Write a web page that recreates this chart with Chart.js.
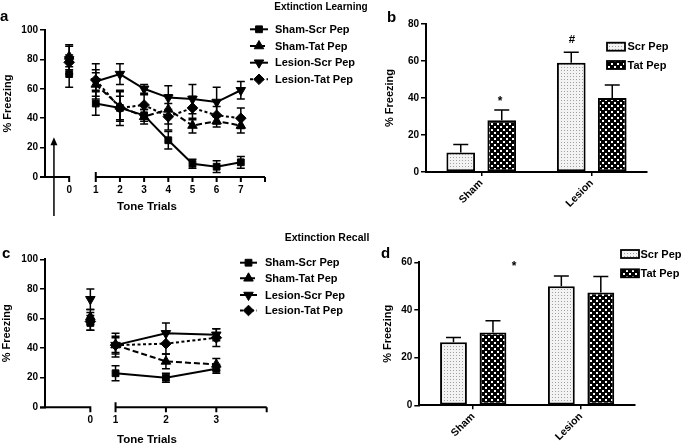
<!DOCTYPE html>
<html><head><meta charset="utf-8">
<script src="https://cdn.jsdelivr.net/npm/chart.js@4.4.1/dist/chart.umd.min.js"></script>
<style>
html,body{margin:0;padding:0;background:#fff;}
body{width:685px;height:445px;overflow:hidden;position:relative;font-family:"Liberation Sans",Arial,sans-serif;}
canvas{position:absolute;}
.t{position:absolute;font-weight:bold;color:#000;white-space:nowrap;line-height:1;}
.c{transform:translateX(-50%);}
</style></head><body>
<canvas id="ca" width="380" height="222" style="left:0;top:0"></canvas>
<canvas id="cb" width="305" height="222" style="left:380px;top:0"></canvas>
<canvas id="cc" width="380" height="223" style="left:0;top:222px"></canvas>
<canvas id="cd" width="305" height="223" style="left:380px;top:222px"></canvas>

<div class="t" style="left:0px;top:8px;font-size:15px">a</div>
<div class="t" style="left:387px;top:9px;font-size:15px">b</div>
<div class="t" style="left:2px;top:245px;font-size:15px">c</div>
<div class="t" style="left:381px;top:245px;font-size:15px">d</div>
<div class="t c" style="left:321px;top:1.5px;font-size:10px">Extinction Learning</div>
<div class="t c" style="left:327px;top:232px;font-size:10.5px">Extinction Recall</div>
<div class="t c" style="left:147px;top:201px;font-size:11.5px">Tone Trials</div>
<div class="t c" style="left:147px;top:434px;font-size:11.5px">Tone Trials</div>
<div class="t c" style="left:500px;top:95px;font-size:12px">*</div>
<div class="t c" style="left:572px;top:33.5px;font-size:11.5px">#</div>
<div class="t c" style="left:514px;top:260px;font-size:12px">*</div>

<script>
// ---------------- data ----------------
const seriesNames = ['Sham-Scr Pep', 'Sham-Tat Pep', 'Lesion-Scr Pep', 'Lesion-Tat Pep'];

// (a) Extinction learning, tone trials 0..7
const learnTrials = [0, 1, 2, 3, 4, 5, 6, 7];
const learnShamScr     = [70, 50, 47, 42, 25, 9, 7, 10];
const learnShamScrErr  = [9, 8, 8, 4, 6, 3, 4, 4];
const learnShamTat     = [82, 63, 48, 41, 46, 35, 38, 35];
const learnShamTatErr  = [7, 8, 10, 5, 10, 5, 4, 5];
const learnLesScr      = [80, 65, 70, 60, 54, 53, 51, 59];
const learnLesScrErr   = [10, 12, 7, 3, 8, 10, 10, 6];
const learnLesTat      = [78, 66, 47, 49, 41, 47, 42, 40];
const learnLesTatErr   = [5, 7, 12, 7, 9, 8, 6, 7];

// (c) Extinction recall, tone trials 0..3
const recallTrials = [0, 1, 2, 3];
const recallShamScr    = [57, 23, 20, 26];
const recallShamScrErr = [5, 5, 3, 3];
const recallShamTat    = [61, 42, 31, 29];
const recallShamTatErr = [5, 6, 5, 4];
const recallLesScr     = [73, 42, 50, 49];
const recallLesScrErr  = [7, 8, 7, 4];
const recallLesTat     = [58, 42, 43, 47];
const recallLesTatErr  = [6, 5, 7, 6];

// (b) and (d) bar panels
const groups = ['Sham', 'Lesion'];
const pepNames = ['Scr Pep', 'Tat Pep'];
const learnBarScr    = [10.6, 59];
const learnBarScrErr = [4.3, 5.7];
const learnBarTat    = [28, 40];
const learnBarTatErr = [5.5, 7];
const recallBarScr    = [26.5, 50];
const recallBarScrErr = [2, 4.3];
const recallBarTat    = [30.5, 47.3];
const recallBarTatErr = [5, 6.7];

// ---------------- styles ----------------
const FONT = '"Liberation Sans", Arial, sans-serif';
Chart.defaults.font.family = FONT;
Chart.defaults.font.weight = 'bold';
Chart.defaults.font.size = 10;
Chart.defaults.color = '#000';

const lineStyles = [
  {pointStyle: 'rect', rotation: 0, radius: 4.8, dash: []},
  {pointStyle: 'triangle', rotation: 0, radius: 5.5, dash: [6, 3]},
  {pointStyle: 'triangle', rotation: 180, radius: 5.5, dash: []},
  {pointStyle: 'rectRot', rotation: 0, radius: 5.3, dash: [3, 2.5]}
];

function makePattern(kind) {
  const c = document.createElement('canvas');
  const g = c.getContext('2d');
  if (kind === 'dots') {
    c.width = 3; c.height = 3;
    g.fillStyle = '#f3f3f3'; g.fillRect(0, 0, 3, 3);
    g.fillStyle = '#a0a0a0'; g.fillRect(1, 1, 1, 1);
  } else {
    c.width = 6; c.height = 6;
    g.fillStyle = '#000000'; g.fillRect(0, 0, 6, 6);
    g.fillStyle = '#ffffff'; g.fillRect(0, 0, 2, 2); g.fillRect(3, 3, 2, 2);
  }
  return g.createPattern(c, 'repeat');
}
const scrPattern = makePattern('dots');
const tatPattern = makePattern('checks');

// ---------------- plugins ----------------
function drawErrors(chart, o) {
  const ctx = chart.ctx, ys = chart.scales.y;
  ctx.save();
  ctx.strokeStyle = '#000'; ctx.lineWidth = o.lineWidth; ctx.setLineDash([]);
  chart.data.datasets.forEach((ds, di) => {
    const meta = chart.getDatasetMeta(di);
    meta.data.forEach((el, i) => {
      const raw = ds.data[i];
      const v = (typeof raw === 'object') ? raw.y : raw;
      const e = ds.errors[i];
      const top = ys.getPixelForValue(v + e);
      const bot = o.upOnly ? ys.getPixelForValue(v) : ys.getPixelForValue(v - e);
      ctx.beginPath();
      ctx.moveTo(el.x, top); ctx.lineTo(el.x, bot);
      ctx.moveTo(el.x - o.cap / 2, top); ctx.lineTo(el.x + o.cap / 2, top);
      if (!o.upOnly) { ctx.moveTo(el.x - o.cap / 2, bot); ctx.lineTo(el.x + o.cap / 2, bot); }
      ctx.stroke();
    });
  });
  ctx.restore();
}
const errorBarPlugin = {
  id: 'errorBars',
  beforeDatasetsDraw(chart, a, o) { if (o.layer === 'below') drawErrors(chart, o); },
  afterDatasetsDraw(chart, a, o) { if (o.layer === 'above') drawErrors(chart, o); }
};

const brokenAxisPlugin = {
  id: 'brokenAxis',
  afterDraw(chart, a, o) {
    const ctx = chart.ctx, xs = chart.scales.x, area = chart.chartArea;
    const yb = area.bottom;
    const pBase = xs.getPixelForValue(o.base);
    const p1 = xs.getPixelForValue(1);
    ctx.save();
    ctx.strokeStyle = '#000'; ctx.lineWidth = 2; ctx.setLineDash([]);
    ctx.beginPath();
    ctx.moveTo(area.left - 5, yb); ctx.lineTo(pBase + 1, yb);
    ctx.moveTo(pBase, yb); ctx.lineTo(pBase, yb + 5);
    ctx.moveTo(p1, yb); ctx.lineTo(area.right, yb);
    ctx.moveTo(p1, yb - 5); ctx.lineTo(p1, yb + 5);
    o.trials.forEach(t => { if (t >= 2) { const p = xs.getPixelForValue(t); ctx.moveTo(p, yb); ctx.lineTo(p, yb + 5); } });
    ctx.moveTo(area.right, yb); ctx.lineTo(area.right, yb + 5);
    ctx.stroke();
    if (o.arrow) {
      const ys = chart.scales.y;
      const ax = xs.getPixelForValue(o.arrow.x);
      const tip = ys.getPixelForValue(o.arrow.tipValue);
      const bot = yb + o.arrow.below;
      ctx.lineWidth = 1.5;
      ctx.beginPath(); ctx.moveTo(ax, bot); ctx.lineTo(ax, tip + 6); ctx.stroke();
      ctx.fillStyle = '#000';
      ctx.beginPath(); ctx.moveTo(ax, tip); ctx.lineTo(ax - 3.5, tip + 8); ctx.lineTo(ax + 3.5, tip + 8); ctx.closePath(); ctx.fill();
    }
    ctx.restore();
  }
};

const lineLegendPlugin = {
  id: 'lineLegend',
  afterDraw(chart, a, o) {
    const ctx = chart.ctx;
    ctx.save();
    ctx.font = 'bold 11px ' + FONT;
    ctx.textBaseline = 'middle';
    ctx.fillStyle = '#000'; ctx.strokeStyle = '#000';
    chart.data.datasets.forEach((ds, i) => {
      const y = o.rows[i];
      ctx.lineWidth = 2;
      ctx.setLineDash(ds.borderDash || []);
      ctx.beginPath(); ctx.moveTo(o.x0, y); ctx.lineTo(o.x1, y); ctx.stroke();
      ctx.setLineDash([]);
      ctx.lineWidth = 1;
      Chart.helpers.drawPoint(ctx, {pointStyle: ds.pointStyle, rotation: ds.pointRotation, radius: ds.pointRadius, borderWidth: 1}, (o.x0 + o.x1) / 2, y);
      ctx.fillText(ds.label, o.textX, y + 0.5);
    });
    ctx.restore();
  }
};

const barLegendPlugin = {
  id: 'barLegend',
  afterDraw(chart, a, o) {
    const ctx = chart.ctx;
    ctx.save();
    ctx.font = 'bold 11px ' + FONT;
    ctx.textBaseline = 'middle';
    chart.data.datasets.forEach((ds, i) => {
      const y = o.rows[i];
      ctx.fillStyle = ds.backgroundColor;
      ctx.fillRect(o.x, y - o.h / 2, o.w, o.h);
      ctx.strokeStyle = '#000'; ctx.lineWidth = 1.8;
      ctx.strokeRect(o.x, y - o.h / 2, o.w, o.h);
      ctx.fillStyle = '#000';
      ctx.fillText(ds.label, o.textX, y + 0.5);
    });
    ctx.restore();
  }
};

// ---------------- builders ----------------
function yAxis(max, width, titlePad) {
  return {
    min: 0, max: max,
    afterFit: s => { s.width = width; },
    ticks: {stepSize: 20, padding: 2, font: {size: 10, weight: 'bold'}, color: '#000'},
    grid: {drawOnChartArea: false, drawTicks: true, tickLength: 5, color: '#000', lineWidth: 1.5},
    border: {display: true, color: '#000', width: 2},
    title: {display: true, text: '% Freezing', color: '#000', font: {size: 11, weight: 'bold'}, padding: {top: titlePad, bottom: 0}}
  };
}

function lineChart(id, trials, values, errors, cfg) {
  const xOf = t => (t === 0 ? cfg.basePos : t);
  const datasets = values.map((vals, i) => ({
    label: seriesNames[i],
    data: trials.map((t, j) => ({x: xOf(t), y: vals[j]})),
    errors: errors[i],
    borderColor: '#000', backgroundColor: '#000',
    borderWidth: 2, borderDash: lineStyles[i].dash,
    pointStyle: lineStyles[i].pointStyle, pointRotation: lineStyles[i].rotation,
    pointRadius: lineStyles[i].radius, pointBorderWidth: 1,
    pointBackgroundColor: '#000', pointBorderColor: '#000',
    segment: {borderColor: c => (c.p0DataIndex === 0 ? 'rgba(0,0,0,0)' : '#000')},
    tension: 0, clip: false
  }));
  return new Chart(document.getElementById(id), {
    type: 'line',
    data: {datasets},
    options: {
      responsive: false, animation: false, devicePixelRatio: 1,
      layout: {padding: {left: 0, top: cfg.top, right: cfg.right, bottom: 0}},
      scales: {
        x: {
          type: 'linear', min: cfg.xMin, max: cfg.xMax,
          afterFit: s => { s.height = cfg.xH; },
          afterBuildTicks: s => { s.ticks = trials.map(t => ({value: xOf(t)})); },
          ticks: {autoSkip: false, maxRotation: 0, padding: 7, callback: (v, i) => String(trials[i]), font: {size: 10, weight: 'bold'}, color: '#000'},
          grid: {drawOnChartArea: false, drawTicks: false},
          border: {display: false}
        },
        y: yAxis(100, 45, cfg.titlePad)
      },
      plugins: {
        legend: {display: false}, tooltip: {enabled: false},
        errorBars: {layer: 'below', upOnly: false, cap: 8, lineWidth: 1.5},
        brokenAxis: {base: cfg.basePos, trials: trials, arrow: cfg.arrow},
        lineLegend: cfg.legend
      }
    },
    plugins: [errorBarPlugin, brokenAxisPlugin, lineLegendPlugin]
  });
}

function barChart(id, scr, scrErr, tat, tatErr, cfg) {
  const common = {borderColor: '#000', borderWidth: 2, borderSkipped: false, barPercentage: cfg.barPct, categoryPercentage: cfg.catPct};
  return new Chart(document.getElementById(id), {
    type: 'bar',
    data: {
      labels: groups,
      datasets: [
        Object.assign({label: pepNames[0], data: scr, errors: scrErr, backgroundColor: scrPattern}, common),
        Object.assign({label: pepNames[1], data: tat, errors: tatErr, backgroundColor: tatPattern}, common)
      ]
    },
    options: {
      responsive: false, animation: false, devicePixelRatio: 1,
      layout: {padding: {left: 0, top: cfg.top, right: cfg.right, bottom: 0}},
      scales: {
        x: {
          afterFit: s => { s.height = cfg.xH; },
          ticks: {minRotation: 45, maxRotation: 45, padding: 1, font: {size: 10.5, weight: 'bold'}, color: '#000'},
          grid: {offset: false, drawOnChartArea: false, drawTicks: true, tickLength: 4, color: '#000', lineWidth: 1.5},
          border: {display: true, color: '#000', width: 2}
        },
        y: yAxis(cfg.yMax, cfg.yW, cfg.titlePad)
      },
      plugins: {
        legend: {display: false}, tooltip: {enabled: false},
        errorBars: {layer: 'above', upOnly: true, cap: 15, lineWidth: 1.5},
        barLegend: cfg.legend
      }
    },
    plugins: [errorBarPlugin, barLegendPlugin]
  });
}

// ---------------- charts ----------------
lineChart('ca', learnTrials,
  [learnShamScr, learnShamTat, learnLesScr, learnLesTat],
  [learnShamScrErr, learnShamTatErr, learnLesScrErr, learnLesTatErr],
  {basePos: -0.1, xMin: -1.1, xMax: 8, top: 30, right: 115, xH: 45, titlePad: 1.4,
   arrow: {x: -0.73, tipValue: 27, below: 39},
   legend: {x0: 250, x1: 268, textX: 275, rows: [29.3, 46, 62.7, 79.3]}});

lineChart('cc', recallTrials,
  [recallShamScr, recallShamTat, recallLesScr, recallLesTat],
  [recallShamScrErr, recallShamTatErr, recallLesScrErr, recallLesTatErr],
  {basePos: 0.5, xMin: -0.4, xMax: 4, top: 37.3, right: 113.3, xH: 37.7, titlePad: 0.7,
   arrow: null,
   legend: {x0: 240, x1: 257, textX: 265, rows: [40.7, 56.3, 73, 88.5]}});

barChart('cb', learnBarScr, learnBarScrErr, learnBarTat, learnBarTatErr,
  {yMax: 80, yW: 46, top: 24, right: 38, xH: 50, titlePad: 3.4, barPct: 0.7, catPct: 0.742,
   legend: {x: 227, w: 18, h: 8, textX: 247.5, rows: [46.7, 65]}});

barChart('cd', recallBarScr, recallBarScrErr, recallBarTat, recallBarTatErr,
  {yMax: 60, yW: 39.3, top: 40.3, right: 50, xH: 39.7, titlePad: 1.4, barPct: 0.68, catPct: 0.732,
   legend: {x: 241, w: 18, h: 8, textX: 260.5, rows: [32, 51.3]}});
</script>
</body></html>
